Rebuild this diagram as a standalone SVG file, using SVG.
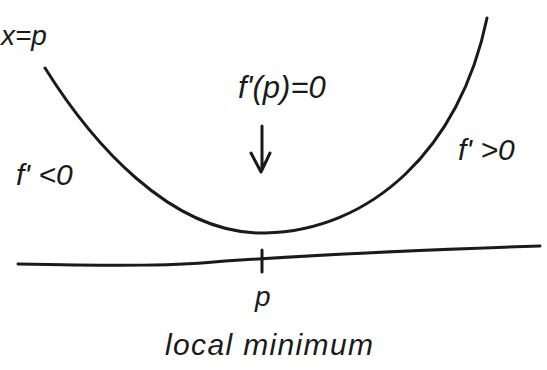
<svg xmlns="http://www.w3.org/2000/svg" width="547" height="370" viewBox="0 0 547 370">
<style>
.ink{fill:none;stroke:#1a1a1a;stroke-width:3;stroke-linecap:round;stroke-linejoin:round}
.t{font-family:"Liberation Sans",sans-serif;font-style:italic;fill:#1a1a1a}
</style>
<rect width="547" height="370" fill="#fff"/>
<g id="connectors">
<path id="curve" class="ink" d="M45,68 C90,140 170,235 265,233 C370,231 460,150 487,18"/>
<path id="axis" class="ink" d="M18,264 C120,266 180,266 225,261 C300,256 420,250 540,246"/>
<path id="tick" class="ink" d="M262,250 L262,272"/>
<path id="arrow" class="ink" d="M262,126 L262,170 M251,153 L261,172 L270,153"/>
</g>
<g id="label-xp"><text class="t" x="1" y="45" font-size="28">x=p</text></g>
<g id="label-fp"><text class="t" x="238" y="98" font-size="31">f'(p)=0</text></g>
<g id="label-neg"><text class="t" x="16" y="185" font-size="30">f' &lt;0</text></g>
<g id="label-pos"><text class="t" x="458" y="160" font-size="30">f' &gt;0</text></g>
<g id="label-p"><text class="t" x="255" y="306" font-size="28">p</text></g>
<g id="label-local"><text class="t" x="165" y="355" font-size="30" textLength="208" lengthAdjust="spacing">local minimum</text></g>
</svg>
